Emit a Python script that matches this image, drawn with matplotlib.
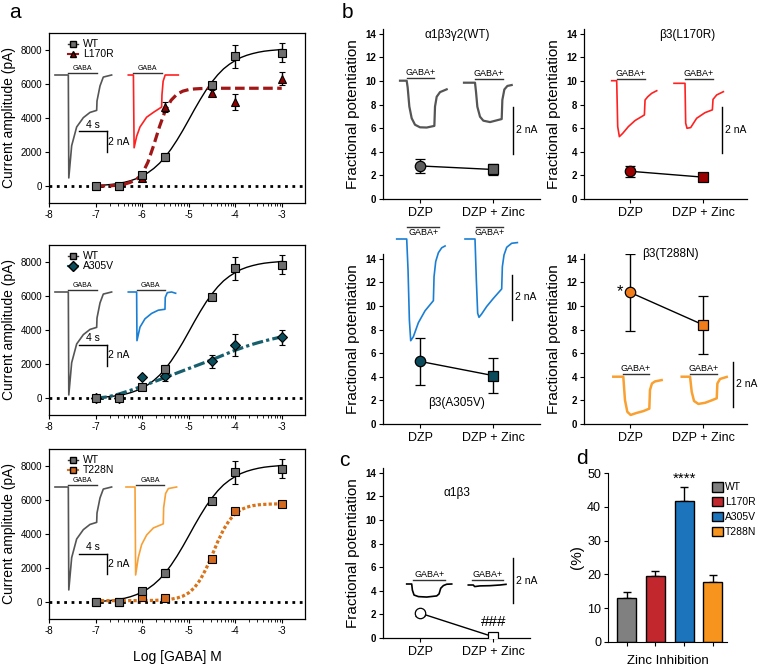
import numpy as np
import matplotlib
matplotlib.use('Agg')
import matplotlib.pyplot as plt
from matplotlib.lines import Line2D
from matplotlib.patches import Patch

plt.rcParams['font.family'] = ['Liberation Sans', 'DejaVu Sans']
plt.rcParams['axes.unicode_minus'] = False

# ---- panel a: dose response (pA) ----
log_gaba = [-7, -6.5, -6, -5.5, -4.5, -4, -3]
wt_amp = [0, 0, 640, 1700, 5950, 7620, 7850]
wt_err = [60, 60, 150, 220, 120, 650, 560]
l170r_amp = [0, 0, 500, 4650, 5480, 4950, 6300]
l170r_err = [50, 50, 100, 300, 150, 480, 380]
a305v_amp = [0, 0, 1240, 1280, 2150, 3120, 3560]
a305v_err = [0, 0, 0, 280, 380, 650, 420]
t228n_amp = [0, 0, 320, 220, 2520, 5330, 5780]
t228n_err = [0, 0, 60, 60, 150, 180, 150]

# fitted curves, every 0.125 log unit from -7 to -3
fit_x = np.arange(-7, -2.99, 0.125)
wt_fit = [20, 40, 70, 105, 155, 220, 310, 430, 580, 780, 1030, 1340, 1720, 2180, 2700, 3270,
          3880, 4500, 5090, 5640, 6120, 6540, 6890, 7160, 7380, 7560, 7690, 7790, 7870, 7930,
          7970, 8000, 8030]
l170r_fit = [0, 5, 10, 25, 50, 110, 220, 380, 700, 1400, 2400, 3500, 4450, 5050, 5400, 5580,
             5670, 5710, 5730, 5740, 5745] + [5750] * 12
a305v_fit = [0, 25, 60, 140, 230, 340, 450, 570, 700, 820, 950, 1080, 1210, 1340, 1470, 1600,
             1730, 1860, 1990, 2120, 2250, 2390, 2530, 2670, 2810, 2930, 3050, 3160, 3260, 3350,
             3440, 3520, 3600]
t228n_fit = [80, 80, 80, 80, 80, 80, 81, 82, 85, 89, 96, 108, 129, 167, 233, 346, 536, 842,
             1311, 1955, 2731, 3546, 4264, 4811, 5193, 5432, 5580, 5666, 5717, 5743, 5759, 5768,
             5774]

# example current traces (time in s, current in nA)
wt_tr_t = [0, 1.95, 2.02, 2.44, 3.17, 4.15, 5.12, 6.10, 6.15, 6.59, 7.07, 8.29]
wt_tr_i = [0, 0, -9.9, -6.8, -5.0, -4.1, -3.6, -3.4, -2.5, -1.05, -0.2, 0]
l170r_tr_t = [0, 0.75, 0.85, 1.22, 1.71, 2.68, 3.66, 4.88, 4.93, 5.1, 5.4, 7.32]
l170r_tr_i = [0, 0, -7.0, -5.9, -5.0, -4.06, -3.6, -3.08, -1.9, -0.6, 0, 0]
a305v_tr_t = [0, 1.22, 1.27, 1.71, 2.44, 3.41, 4.39, 5.37, 5.41, 5.71, 6.34, 6.93]
a305v_tr_i = [0, 0, -4.68, -3.38, -2.58, -2.06, -1.75, -1.66, -0.52, -0.06, 0, -0.12]
t228n_tr_t = [0, 1.32, 1.41, 1.8, 2.29, 3.02, 4.0, 5.46, 5.51, 5.8, 6.2, 7.41]
t228n_tr_i = [0, 0, -8.46, -6.77, -5.54, -4.62, -3.94, -3.54, -2.0, -0.62, -0.15, 0]

# ---- panel b / c: fractional potentiation ----
conditions = ['DZP', 'DZP + Zinc']
wt_fp, wt_fp_err = [2.8, 2.5], [0.6, 0.45]
l170r_fp, l170r_fp_err = [2.35, 1.85], [0.45, 0.3]
a305v_fp, a305v_fp_err = [5.3, 4.1], [2.0, 1.5]
t288n_fp, t288n_fp_err = [11.15, 8.4], [3.25, 2.45]
a1b3_fp, a1b3_fp_err = [2.1, 0.1], [0.2, 0.1]

wt_dzp_t = [0, 1.0, 1.15, 1.4, 1.75, 2.25, 3.0, 4.0, 5.15, 5.25, 5.5, 6.0, 7.0]
wt_dzp_i = [0, 0, -0.29, -1.11, -1.61, -1.89, -2.0, -2.01, -1.94, -1.11, -0.69, -0.49, -0.37]
wt_zn_t = [0, 1.65, 1.8, 2.0, 2.4, 2.9, 3.9, 5.65, 5.75, 6.05, 6.5, 7.15]
wt_zn_i = [0, 0, -0.39, -1.03, -1.46, -1.63, -1.69, -1.56, -0.74, -0.29, -0.14, -0.1]
l170r_dzp_t = [0, 0.75, 0.9, 1.15, 1.65, 2.5, 3.5, 4.9, 5.0, 5.4, 6.0, 6.75]
l170r_dzp_i = [0, 0, -1.97, -2.4, -2.26, -1.97, -1.71, -1.47, -0.83, -0.69, -0.54, -0.43]
l170r_zn_t = [0, 1.65, 1.75, 1.95, 2.5, 3.4, 4.65, 5.75, 5.85, 6.4, 7.4]
l170r_zn_i = [0, 0, -1.71, -1.93, -1.9, -1.5, -1.26, -1.14, -0.69, -0.5, -0.36]
a305v_dzp_t = [0, 1.5, 1.7, 1.9, 2.1, 2.5, 3.25, 4.25, 5.5, 5.6, 5.85, 6.25, 6.75, 7.25]
a305v_dzp_i = [0, 0, -1.38, -3.6, -4.52, -4.34, -3.72, -3.19, -2.74, -1.67, -1.0, -0.61, -0.39, -0.31]
a305v_zn_t = [0, 1.5, 1.7, 1.9, 2.1, 2.5, 3.25, 4.25, 5.5, 5.6, 5.85, 6.25, 7.0, 7.85]
a305v_zn_i = [0, 0, -1.82, -3.3, -3.48, -3.33, -3.0, -2.64, -2.22, -1.23, -0.71, -0.37, -0.19, -0.16]
t288n_dzp_t = [0, 1.5, 1.75, 2.1, 2.6, 3.5, 4.5, 5.4, 5.5, 5.8, 6.25, 7.25]
t288n_dzp_i = [0, 0, -1.04, -1.56, -1.7, -1.61, -1.53, -1.42, -0.59, -0.3, -0.21, -0.15]
t288n_zn_t = [0, 1.25, 1.5, 1.85, 2.5, 3.5, 4.5, 5.25, 5.35, 5.75, 6.75]
t288n_zn_i = [0, 0, -0.67, -1.08, -1.21, -1.16, -1.05, -0.96, -0.3, -0.1, -0.01]
a1b3_dzp_t = [0, 0.75, 0.85, 1.1, 1.75, 3.0, 4.5, 4.85, 5.1, 5.5, 6.0, 6.75]
a1b3_dzp_i = [0, 0, -0.27, -0.49, -0.56, -0.58, -0.53, -0.44, -0.19, -0.07, -0.01, 0]
a1b3_zn_t = [0, 0.75, 0.95, 1.75, 3.25, 4.75, 5.65]
a1b3_zn_i = [0, 0, -0.07, -0.04, -0.03, 0, 0.03]

# ---- panel d ----
variants = ['WT', 'L170R', 'A305V', 'T288N']
zinc_inh = [13.0, 19.6, 41.6, 17.8]
zinc_err = [1.7, 1.4, 4.3, 2.1]
bar_colors = ['#808080', '#c1272d', '#1c75bc', '#f7941d']

W, H = 760, 666
fig = plt.figure(figsize=(W / 100, H / 100), dpi=100)


def px_axes(left, top, right, bottom):
    return fig.add_axes([left / W, 1 - bottom / H, (right - left) / W, (bottom - top) / H])


def trace_ax(x0, y0, sx, sy):
    # transparent axes with (t=0, I=0) at pixel (x0, y0)
    ax = px_axes(x0 - sx, y0 - 2 * sy, x0 + 12 * sx, y0 + 12 * sy)
    ax.set_xlim(-1, 12)
    ax.set_ylim(-12, 2)
    ax.axis('off')
    return ax


def draw_trace(ax, t, i, color, on, off, bar_y, label, lw=1.2, fs=6.5, below=False):
    ax.plot(t, i, color=color, lw=lw, solid_joinstyle='round', clip_on=False)
    ax.plot([on, off], [bar_y, bar_y], color='#333333', lw=1, clip_on=False)
    if below:
        ax.text((on + off) / 2, bar_y - 0.05, label, ha='center', va='top', fontsize=fs)
    else:
        ax.text((on + off) / 2, bar_y + 0.05, label, ha='center', va='bottom', fontsize=fs)


def nA_bar(ax, t, top, fs=7.5):
    ax.plot([t, t], [top, top - 2], color='black', lw=1, clip_on=False)
    ax.text(t + 0.45, top - 1, '2 nA', ha='left', va='center', fontsize=fs)


# ---------------- panel a ----------------
a_rows = [(33, 203), (245, 415), (449, 619)]
mut_names = ['L170R', 'A305V', 'T228N']
mut_amp = [l170r_amp, a305v_amp, t228n_amp]
mut_err = [l170r_err, a305v_err, t228n_err]
mut_fit = [l170r_fit, a305v_fit, t228n_fit]
mut_marker = ['^', 'D', 's']
mut_mcol = ['#8b0000', '#0b4d5b', '#d2691e']
mut_lcol = ['#a11616', '#175f6d', '#d9731a']
mut_ls = [(0, (3, 1.4)), (0, (3.5, 1, 1, 1)), (0, (1, 0.7))]
mut_tr = [(l170r_tr_t, l170r_tr_i, '#ff2020', 0.75, 4.88),
          (a305v_tr_t, a305v_tr_i, '#1a7fd4', 1.22, 5.37),
          (t228n_tr_t, t228n_tr_i, '#f7a035', 1.5, 5.5)]
tr_origin_y = [75, 292, 487]
tr_mut_x = [128.3, 128.3, 126]
scale_y = [-5.4, -5.1, -6.4]
sxa, sya = 6.83, 10.4

for r, (top, bottom) in enumerate(a_rows):
    ax = px_axes(49, top, 305, bottom)
    ax.set_xlim(-8, -2.5)
    ax.set_ylim(-1000, 9000)
    ax.set_xticks(range(-8, -2))
    ax.set_yticks([0, 2000, 4000, 6000, 8000])
    minor = [d + np.log10(k) for d in range(-7, -3) for k in range(2, 10)]
    ax.set_xticks(minor, minor=True)
    ax.tick_params(labelsize=7, length=3, width=0.8, pad=2)
    ax.tick_params(which='minor', length=2, width=0.6)
    for s in ax.spines.values():
        s.set_linewidth(0.9)
    ax.axhline(0, color='black', ls=':', lw=2, zorder=1)
    ax.set_ylabel('Current amplitude (pA)', fontsize=10, labelpad=3)

    ax.plot(fit_x, wt_fit, color='black', lw=1, zorder=2)
    ax.plot(fit_x, mut_fit[r], color=mut_lcol[r], lw=2.3, ls=mut_ls[r], zorder=2)
    ax.errorbar(log_gaba, mut_amp[r], yerr=mut_err[r], fmt=mut_marker[r], ms=5.5 if r != 1 else 4.8,
                mfc=mut_mcol[r], mec='black', mew=0.8, ecolor='black', elinewidth=1,
                capsize=2.5, capthick=1, zorder=3)
    ax.errorbar(log_gaba, wt_amp, yerr=wt_err, fmt='s', ms=5.5, mfc='#6e6e6e', mec='black',
                mew=0.8, ecolor='black', elinewidth=1, capsize=2.5, capthick=1, zorder=4)
    if r == 2:
        ax.set_xlabel('Log [GABA] M', fontsize=10, labelpad=10)

    handles = [Line2D([], [], color='#333333', marker='s', ms=5, mfc='#6e6e6e', mec='black', lw=1),
               Line2D([], [], color=mut_lcol[r], marker=mut_marker[r], ms=5, mfc=mut_mcol[r],
                      mec='black', lw=1.5)]
    ax.legend(handles, ['WT', mut_names[r]], loc='upper left', bbox_to_anchor=(0.05, 1.0),
              frameon=False, fontsize=7.5, handlelength=1.0, handletextpad=0.4,
              labelspacing=0.0, borderaxespad=0.2)

    # inset traces
    tax = trace_ax(55, tr_origin_y[r], sxa, sya)
    draw_trace(tax, wt_tr_t, wt_tr_i, '#555555', 1.95, 6.1, 0.2, 'GABA', fs=5)
    tax.plot([3.56, 7.56], [scale_y[r], scale_y[r]], color='black', lw=1)
    tax.plot([7.56, 7.56], [scale_y[r], scale_y[r] - 2], color='black', lw=1)
    tax.text(5.56, scale_y[r] + 0.15, '4 s', ha='center', va='bottom', fontsize=7.5)
    tax.text(7.75, scale_y[r] - 1, '2 nA', ha='left', va='center', fontsize=7.5)
    mt, mi, mc, on, off = mut_tr[r]
    tax2 = trace_ax(tr_mut_x[r], tr_origin_y[r], sxa, sya)
    draw_trace(tax2, mt, mi, mc, on, off, 0.2, 'GABA', fs=5)


# ---------------- panel b / c ----------------
def setup_fp(ax, xl):
    ax.set_xlim(*xl)
    ax.set_ylim(0, 14.4)
    ax.set_yticks(range(0, 15, 2))
    ax.set_xticks([0, 1])
    ax.set_xticklabels(conditions, fontsize=9)
    for lab in ax.get_yticklabels():
        lab.set_fontweight('bold')
        lab.set_fontsize(7)
    ax.tick_params(axis='y', length=3, width=0.8, pad=2)
    ax.tick_params(axis='x', length=3, width=0.8, pad=3)
    ax.spines['top'].set_visible(False)
    ax.spines['right'].set_visible(False)
    ax.spines['left'].set_linewidth(0.9)
    ax.spines['bottom'].set_linewidth(0.9)
    ax.set_ylabel('Fractional potentiation', fontsize=11, labelpad=4)


def fp_points(ax, vals, errs, color):
    ax.plot([0, 1], vals, color='black', lw=1, zorder=2)
    for k, m in enumerate(['o', 's']):
        ax.errorbar(k, vals[k], yerr=errs[k], fmt=m, ms=7.5, mfc=color, mec='black', mew=0.9,
                    ecolor='black', elinewidth=1, capsize=3.5, capthick=1, zorder=3)


col1 = (-0.51, 1.64)
col2 = (-0.63, 1.6)
sxb = 6.67

# WT
ax = px_axes(383, 29, 540, 199)
setup_fp(ax, col1)
fp_points(ax, wt_fp, wt_fp_err, '#5e5e5e')
ax.text(0.5, 13.9, 'α1β3γ2(WT)', ha='center', va='center', fontsize=8.5)
t1 = trace_ax(400, 80.7, sxb, 23.3)
draw_trace(t1, wt_dzp_t, wt_dzp_i, '#555555', 1.0, 5.15, 0.13, 'GABA+', lw=1.6)
t2 = trace_ax(464, 82.7, sxb, 23.3)
draw_trace(t2, wt_zn_t, wt_zn_i, '#555555', 1.65, 5.8, 0.16, 'GABA+', lw=1.6)
nA_bar(t2, 7.4, -1.05)

# L170R
ax = px_axes(584, 29, 747, 199)
setup_fp(ax, col2)
fp_points(ax, l170r_fp, l170r_fp_err, '#9b0000')
ax.text(0.78, 13.9, 'β3(L170R)', ha='center', va='center', fontsize=8.5)
t1 = trace_ax(611.7, 80.7, sxb, 23.3)
draw_trace(t1, l170r_dzp_t, l170r_dzp_i, '#ff2020', 0.75, 5.0, 0.07, 'GABA+')
t2 = trace_ax(674, 83.3, sxb, 23.3)
draw_trace(t2, l170r_zn_t, l170r_zn_i, '#ff2020', 1.65, 5.8, 0.19, 'GABA+')
nA_bar(t2, 7.15, -1.0)

# A305V
ax = px_axes(383, 254, 540, 424)
setup_fp(ax, col1)
fp_points(ax, a305v_fp, a305v_fp_err, '#0a4a5a')
ax.text(0.5, 1.8, 'β3(A305V)', ha='center', va='center', fontsize=8.5)
t1 = trace_ax(396.7, 239, sxb, 22.5)
draw_trace(t1, a305v_dzp_t, a305v_dzp_i, '#1a7fd4', 1.6, 6.4, 0.55, 'GABA+', below=True)
t2 = trace_ax(465, 239, sxb, 22.5)
draw_trace(t2, a305v_zn_t, a305v_zn_i, '#1a7fd4', 1.6, 5.65, 0.55, 'GABA+', below=True)
nA_bar(t2, 7.0, -1.6)

# T288N
ax = px_axes(584, 254, 747, 424)
setup_fp(ax, col2)
fp_points(ax, t288n_fp, t288n_fp_err, '#f07d1a')
ax.text(0.55, 14.4, 'β3(T288N)', ha='center', va='center', fontsize=8.5)
ax.text(-0.1, 11.2, '*', ha='right', va='center', fontsize=12)
t1 = trace_ax(613.3, 376.7, sxb, 22.5)
draw_trace(t1, t288n_dzp_t, t288n_dzp_i, '#f9a030', 1.4, 5.4, 0.12, 'GABA+', lw=1.8)
t2 = trace_ax(681.7, 376.7, sxb, 22.5)
draw_trace(t2, t288n_zn_t, t288n_zn_i, '#f9a030', 1.25, 5.35, 0.12, 'GABA+', lw=1.8)
nA_bar(t2, 7.65, 0.67)

# alpha1 beta3 (panel c)
ax = px_axes(383, 468, 530, 638)
setup_fp(ax, (-0.51, 1.5))
fp_points(ax, a1b3_fp, a1b3_fp_err, 'white')
ax.text(0.5, 12.3, 'α1β3', ha='center', va='center', fontsize=8.5)
ax.text(1.0, 1.35, '###', ha='center', va='center', fontsize=11)
t1 = trace_ax(406.7, 584, sxb, 22.5)
draw_trace(t1, a1b3_dzp_t, a1b3_dzp_i, 'black', 1.0, 5.75, 0.18, 'GABA+')
t2 = trace_ax(468.3, 585, sxb, 22.5)
draw_trace(t2, a1b3_zn_t, a1b3_zn_i, 'black', 0.5, 5.15, 0.22, 'GABA+')
nA_bar(t2, 6.75, 1.19)

# ---------------- panel d ----------------
ax = px_axes(608, 473, 727, 642)
xpos = np.arange(len(variants))
ax.bar(xpos, zinc_inh, width=0.66, color=bar_colors, edgecolor='black', linewidth=1, zorder=2)
ax.errorbar(xpos, zinc_inh, yerr=[[0] * 4, zinc_err], fmt='none', ecolor='black',
            elinewidth=1, capsize=3, capthick=1, zorder=1)
ax.set_xlim(-0.66, 3.5)
ax.set_ylim(0, 50)
ax.set_yticks(range(0, 51, 10))
ax.set_xticks(xpos)
ax.set_xticklabels([])
ax.tick_params(labelsize=9, length=3, width=0.8, pad=2)
ax.spines['top'].set_visible(False)
ax.spines['right'].set_visible(False)
ax.set_xlabel('Zinc Inhibition', fontsize=9.5, labelpad=4)
ax.set_ylabel('(%)', fontsize=11, labelpad=2)
ax.text(2, 46.3, '****', ha='center', va='bottom', fontsize=11)
ax.legend([Patch(facecolor=c, edgecolor='black') for c in bar_colors], variants,
          loc='upper left', bbox_to_anchor=(0.84, 0.97), frameon=False, fontsize=7.5,
          handlelength=1.0, handleheight=1.0, handletextpad=0.25, labelspacing=0.45,
          borderaxespad=0)

# panel letters
for lab, x, y in [('a', 15, 13), ('b', 347, 13), ('c', 344, 460), ('d', 582, 458)]:
    fig.text(x / W, 1 - y / H, lab, fontsize=15, ha='center', va='center')

fig.savefig('out.png', dpi=100)
